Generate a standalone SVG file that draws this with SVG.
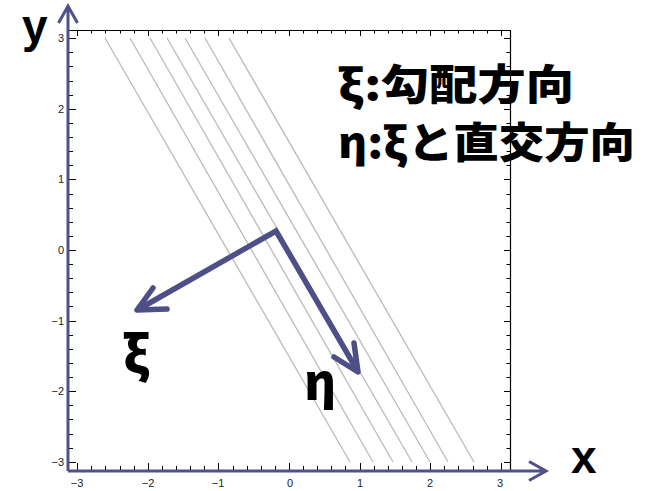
<svg xmlns="http://www.w3.org/2000/svg" width="652" height="491" viewBox="0 0 652 491">
<style>
.frame{fill:none;stroke:#000;stroke-width:1.2}
.axis{fill:none;stroke:#50508a;stroke-width:3}
.tick{fill:none;stroke:#000;stroke-width:1}
.contour{fill:none;stroke:#bebebe;stroke-width:1.4}
.vec{fill:none;stroke:#4f4f88;stroke-width:5.5;stroke-linejoin:miter;stroke-linecap:butt}
.head{fill:none;stroke:#4f4f88;stroke-width:5.5;stroke-linejoin:round;stroke-linecap:round}
.tl{font-family:"Liberation Sans",Arial,sans-serif;font-size:11px;fill:#222}
.big{font-family:"Liberation Sans",Arial,sans-serif;font-weight:bold;font-size:46px;fill:#000}
.greek{font-family:"Noto Sans CJK JP","Noto Sans",sans-serif;font-weight:900;font-size:50px;fill:#000}
.legend{font-family:"Noto Sans CJK JP","Noto Sans CJK SC",sans-serif;font-weight:900;font-size:42px;fill:#000}
</style>
<rect width="652" height="491" fill="#fff"/>
<g id="contours">
<path class="contour" d="M105 38L350 462M130 38L373 462M150 38L393 462M167 38L412 462M185 38L430 462M205 38L448 462M229 38L474 462"/>
</g>
<g id="frame">
<path class="frame" d="M68 30.5H510.5V471"/>
<path class="tick" d="M77.5 30v6M148.5 30v6M218.5 30v6M289.5 30v6M360.5 30v6M430.5 30v6M501.5 30v6"/>
<path class="tick" d="M91.5 30v3.5M105.5 30v3.5M120.5 30v3.5M134.5 30v3.5M162.5 30v3.5M176.5 30v3.5M190.5 30v3.5M204.5 30v3.5M233.5 30v3.5M247.5 30v3.5M261.5 30v3.5M275.5 30v3.5M303.5 30v3.5M317.5 30v3.5M331.5 30v3.5M345.5 30v3.5M374.5 30v3.5M388.5 30v3.5M402.5 30v3.5M416.5 30v3.5M444.5 30v3.5M458.5 30v3.5M473.5 30v3.5M487.5 30v3.5"/>
<path class="tick" d="M510 38.5h-6M510 109.5h-6M510 179.5h-6M510 250.5h-6M510 321.5h-6M510 391.5h-6M510 462.5h-6"/>
<path class="tick" d="M510 52.5h-3.5M510 66.5h-3.5M510 81.5h-3.5M510 95.5h-3.5M510 123.5h-3.5M510 137.5h-3.5M510 151.5h-3.5M510 165.5h-3.5M510 194.5h-3.5M510 208.5h-3.5M510 222.5h-3.5M510 236.5h-3.5M510 264.5h-3.5M510 278.5h-3.5M510 292.5h-3.5M510 306.5h-3.5M510 335.5h-3.5M510 349.5h-3.5M510 363.5h-3.5M510 377.5h-3.5M510 405.5h-3.5M510 419.5h-3.5M510 434.5h-3.5M510 448.5h-3.5"/>
<path class="tick" d="M77.5 470v-7M148.5 470v-7M218.5 470v-7M289.5 470v-7M360.5 470v-7M430.5 470v-7M501.5 470v-7"/>
<path class="tick" d="M91.5 470v-4M105.5 470v-4M120.5 470v-4M134.5 470v-4M162.5 470v-4M176.5 470v-4M190.5 470v-4M204.5 470v-4M233.5 470v-4M247.5 470v-4M261.5 470v-4M275.5 470v-4M303.5 470v-4M317.5 470v-4M331.5 470v-4M345.5 470v-4M374.5 470v-4M388.5 470v-4M402.5 470v-4M416.5 470v-4M444.5 470v-4M458.5 470v-4M473.5 470v-4M487.5 470v-4"/>
<path class="tick" d="M69 38.5h7M69 109.5h7M69 179.5h7M69 250.5h7M69 321.5h7M69 391.5h7M69 462.5h7"/>
<path class="tick" d="M69 52.5h4M69 66.5h4M69 81.5h4M69 95.5h4M69 123.5h4M69 137.5h4M69 151.5h4M69 165.5h4M69 194.5h4M69 208.5h4M69 222.5h4M69 236.5h4M69 264.5h4M69 278.5h4M69 292.5h4M69 306.5h4M69 335.5h4M69 349.5h4M69 363.5h4M69 377.5h4M69 405.5h4M69 419.5h4M69 434.5h4M69 448.5h4"/>
</g>
<g id="x-axis">
<path class="axis" d="M68 471H545M529 461.5L546 471L529 480.5"/>
<g class="tl" text-anchor="middle">
<text x="77" y="487">−3</text>
<text x="148" y="487">−2</text>
<text x="218" y="487">−1</text>
<text x="290" y="487">0</text>
<text x="360" y="487">1</text>
<text x="430" y="487">2</text>
<text x="500" y="487">3</text>
</g>
<text class="big" x="571" y="473">x</text>
</g>
<g id="y-axis">
<path class="axis" d="M68 471V7M58.5 23L68 6L77.5 23"/>
<g class="tl" text-anchor="end">
<text x="64" y="42">3</text>
<text x="64" y="113">2</text>
<text x="64" y="183">1</text>
<text x="64" y="254">0</text>
<text x="64" y="325">−1</text>
<text x="64" y="395">−2</text>
<text x="64" y="466">−3</text>
</g>
<text class="big" x="22" y="42">y</text>
</g>
<g id="vectors">
<path class="vec" d="M139 309L276 231L357 370"/>
<path class="head" d="M153 288L137 310L167 309"/>
<path class="head" d="M354 343L358 372L334 357"/>
</g>
<g id="xi-label"><text class="greek" x="123" y="372">ξ</text></g>
<g id="eta-label"><text class="greek" x="304" y="400">η</text></g>
<g id="legend">
<text class="legend" x="338" y="100" textLength="236" lengthAdjust="spacingAndGlyphs">ξ:勾配方向</text>
<text class="legend" x="338" y="158" textLength="297" lengthAdjust="spacingAndGlyphs">η:ξと直交方向</text>
</g>
</svg>
